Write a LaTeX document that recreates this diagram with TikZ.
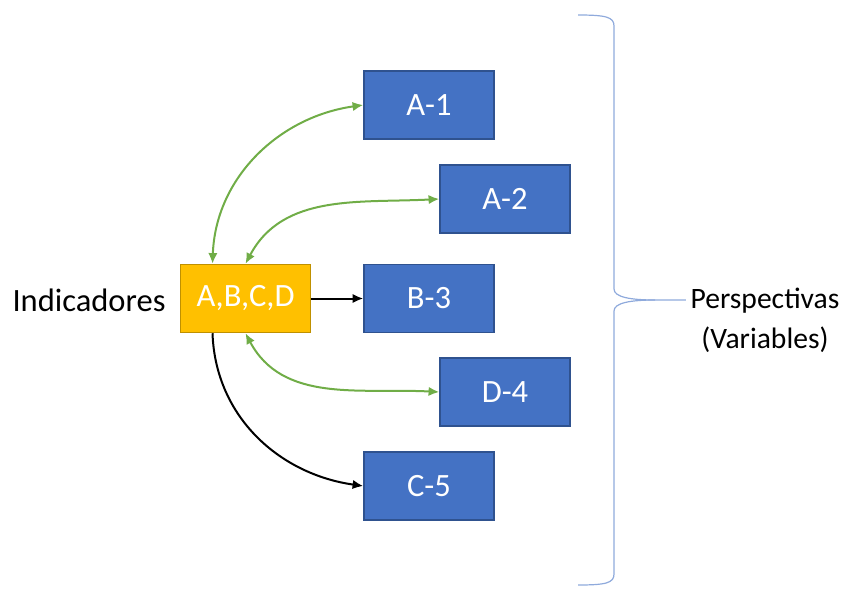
\documentclass[tikz,border=0pt]{standalone}
\usepackage{fontspec}
\setmainfont{Carlito}
\usetikzlibrary{arrows.meta,positioning}
\definecolor{varblue}{HTML}{4472C4}
\definecolor{varedge}{HTML}{2F528F}
\definecolor{indyellow}{HTML}{FFC000}
\definecolor{indedge}{HTML}{BF9000}
\definecolor{linkgreen}{HTML}{70AD47}
\definecolor{bracebl}{HTML}{8FAADC}

\begin{document}
\begin{tikzpicture}[
    x=0.75pt, y=-0.75pt,
    var/.style={rectangle, draw=varedge, line width=1.1pt, fill=varblue, text=white, text centered, minimum width=97.5pt, minimum height=51pt, font=\fontsize{24.4}{29}\selectfont},
    ind/.style={var, draw=indedge, fill=indyellow},
    label/.style={font=\fontsize{24.4}{30}\selectfont, align=center},
    link/.style={{Latex[length=8pt,width=7pt]}-{Latex[length=8pt,width=7pt]}, line width=1.5pt, draw=linkgreen},
    flow/.style={-{Latex[length=8pt,width=7pt]}, line width=1.5pt, draw=black}
]
    \useasboundingbox (0,0) rectangle (858,590);

    % Indicator box and its label
    \node[ind] (abcd) at (245.5,298.5) {A,B,C,D};
    \node[label] (ind_lbl) at (89,300) {Indicadores};

    % Variable boxes
    \node[var] (a1) at (429,105) {A-1};
    \node[var] (a2) at (505,199) {A-2};
    \node[var] (b3) at (429,298.5) {B-3};
    \node[var] (d4) at (505,392) {D-4};
    \node[var] (c5) at (429,486) {C-5};

    % Perspectives label
    \node[label, font=\fontsize{22.2}{30}\selectfont] (persp) at (765,320) {Perspectivas\\(Variables)};

    % Curly brace
    \coordinate (tip) at (655,300);
    \draw[bracebl, line width=0.9pt] (578,15) .. controls (606,15) and (614,17) .. (614,26) -- (614,289)
        .. controls (614,297) and (630,300) .. (tip) -- (persp.west |- tip);
    \draw[bracebl, line width=0.9pt] (tip) .. controls (630,300) and (614,303) .. (614,311) -- (614,574)
        .. controls (614,583) and (606,585) .. (578,585);

    % Green two-way arrows
    \draw[link] ([xshift=-24.75pt]abcd.north) to[out=88, in=188] (a1.west);
    \draw[link] (abcd.north) to[out=62, in=183] (a2.west);
    \draw[link] (abcd.south) to[out=-62, in=177] (d4.west);

    % Black one-way arrows
    \draw[flow] (abcd) -- (b3);
    \draw[flow] ([xshift=-24.75pt]abcd.south) to[out=-88, in=172] (c5.west);
\end{tikzpicture}
\end{document}
